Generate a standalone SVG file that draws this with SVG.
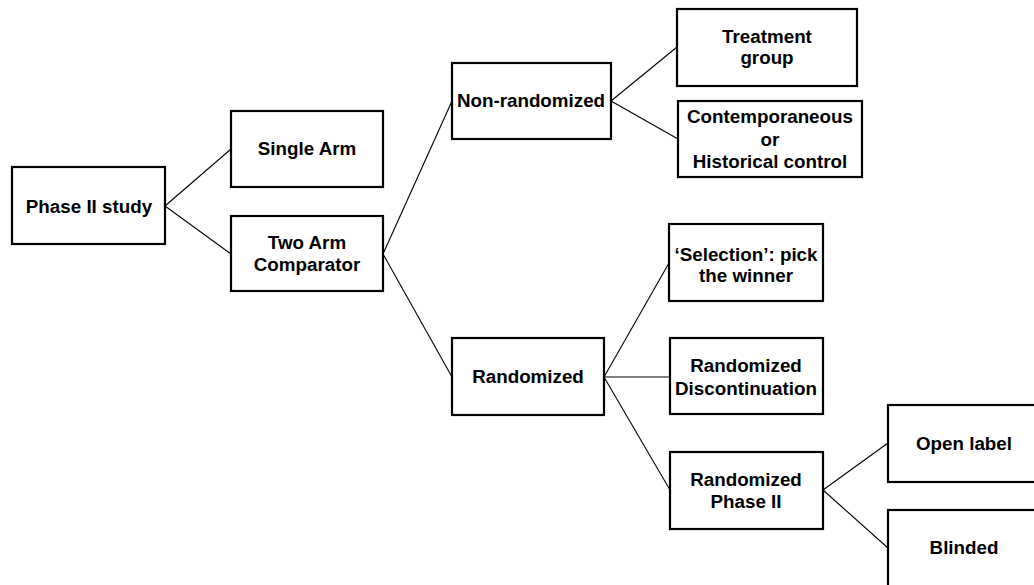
<svg xmlns="http://www.w3.org/2000/svg" width="1034" height="585" viewBox="0 0 1034 585">
<style>
rect.n{fill:#fff;stroke:#000;stroke-width:2.2}
text{font-family:"Liberation Sans",Arial,sans-serif;font-weight:bold;font-size:18.8px;fill:#000;text-anchor:middle}
#connectors line{stroke:#000;stroke-width:1.1}
</style>
<rect width="1034" height="585" fill="#fff"/>
<g id="connectors">
<line x1="165" y1="206" x2="231" y2="149"/>
<line x1="165" y1="206" x2="231" y2="254"/>
<line x1="383" y1="254" x2="452" y2="101"/>
<line x1="383" y1="254" x2="452" y2="377"/>
<line x1="611" y1="101" x2="677" y2="47"/>
<line x1="611" y1="101" x2="678" y2="139"/>
<line x1="604" y1="377" x2="669" y2="263"/>
<line x1="604" y1="377" x2="670" y2="377"/>
<line x1="604" y1="377" x2="670" y2="490"/>
<line x1="823" y1="490" x2="888" y2="443"/>
<line x1="823" y1="490" x2="888" y2="548"/>
</g>
<g id="phase2">
<rect class="n" x="12" y="167" width="153" height="77"/>
<text x="89" y="213">Phase II study</text>
</g>
<g id="single">
<rect class="n" x="231" y="111" width="152" height="76"/>
<text x="307" y="155">Single Arm</text>
</g>
<g id="twoarm">
<rect class="n" x="231" y="216" width="152" height="75"/>
<text x="307" y="249">Two Arm</text>
<text x="307" y="271">Comparator</text>
</g>
<g id="nonrand">
<rect class="n" x="452" y="63" width="159" height="76"/>
<text x="531" y="107">Non-randomized</text>
</g>
<g id="treatment">
<rect class="n" x="677" y="9" width="180" height="77"/>
<text x="767" y="43">Treatment</text>
<text x="767" y="64">group</text>
</g>
<g id="control">
<rect class="n" x="678" y="101" width="184" height="76"/>
<text x="770" y="123">Contemporaneous</text>
<text x="770" y="146">or</text>
<text x="770" y="168">Historical control</text>
</g>
<g id="rand">
<rect class="n" x="452" y="338" width="152" height="77"/>
<text x="528" y="383">Randomized</text>
</g>
<g id="selection">
<rect class="n" x="669" y="224" width="154" height="77"/>
<text x="746" y="261">‘Selection’: pick</text>
<text x="746" y="282">the winner</text>
</g>
<g id="discont">
<rect class="n" x="670" y="338" width="153" height="76"/>
<text x="746" y="372">Randomized</text>
<text x="746" y="395">Discontinuation</text>
</g>
<g id="randp2">
<rect class="n" x="670" y="452" width="153" height="77"/>
<text x="746" y="486">Randomized</text>
<text x="746" y="508">Phase II</text>
</g>
<g id="open">
<rect class="n" x="888" y="405" width="154" height="77"/>
<text x="964" y="450">Open label</text>
</g>
<g id="blinded">
<rect class="n" x="888" y="510" width="154" height="77"/>
<text x="964" y="554">Blinded</text>
</g>
</svg>
